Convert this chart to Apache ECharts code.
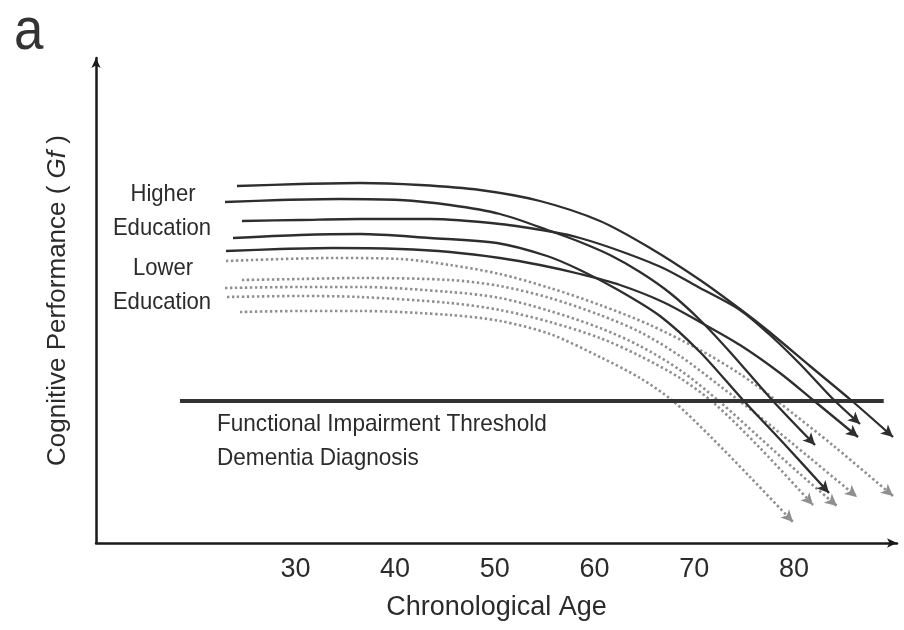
<!DOCTYPE html>
<html>
<head>
<meta charset="utf-8">
<script src="https://cdn.jsdelivr.net/npm/echarts@6/dist/echarts.min.js"></script>
<style>
html,body{margin:0;padding:0;background:#fff;}
#chart{width:904px;height:630px;}
</style>
</head>
<body>
<div id="chart"></div>
<script>
// Chronological age (x) vs cognitive performance (y, arbitrary units)
const tickLabels = [30, 40, 50, 60, 70, 80];

const higherEdu1 = [[24.14,71.4],[30.46,71.8],[36.48,72.0],[42.50,71.6],[48.52,70.6],[54.53,68.4],[60.55,64.4],[65.57,59.0],[70.58,52.6],[74.59,46.8],[77.30,42.6],[81.61,35.4],[85.83,28.4],[89.94,21.2]];
const higherEdu2 = [[22.94,68.2],[28.45,68.6],[34.47,68.8],[40.49,68.6],[45.51,67.6],[50.52,65.8],[55.84,62.2],[58.55,60.2],[61.55,57.6],[64.56,54.2],[67.57,50.0],[70.58,44.6],[73.59,38.2],[77.90,28.4],[82.12,19.6]];
const higherEdu3 = [[24.64,64.4],[30.46,64.6],[36.48,64.8],[43.50,64.8],[50.52,63.8],[55.84,62.2],[58.55,61.0],[62.56,58.4],[66.87,55.0],[70.58,51.0],[74.59,46.6],[77.60,41.6],[80.61,35.8],[83.92,28.8],[86.63,23.8]];
const higherEdu4 = [[23.74,61.0],[30.46,61.6],[36.48,61.8],[43.50,61.0],[50.22,60.0],[55.24,57.4],[58.55,54.6],[62.56,50.4],[66.57,45.4],[70.58,38.2],[74.89,28.6],[79.31,19.2],[83.52,10.0]];
const higherEdu5 = [[23.04,58.4],[28.45,58.8],[33.77,59.0],[40.49,58.8],[45.51,58.2],[50.52,57.0],[54.53,55.6],[58.55,53.8],[62.56,51.6],[66.87,48.2],[70.58,44.2],[74.59,39.6],[78.60,34.0],[81.92,28.6],[86.43,21.2]];

const lowerEdu1 = [[23.04,56.4],[33.77,57.0],[40.49,56.8],[45.51,55.6],[50.52,53.8],[55.54,51.0],[60.55,47.6],[65.57,43.6],[70.58,38.6],[74.59,33.8],[78.30,28.4],[84.12,19.2],[89.94,9.4]];
const lowerEdu2 = [[24.64,52.6],[30.46,52.8],[36.48,53.0],[45.51,52.6],[50.52,51.4],[55.54,49.0],[60.55,45.6],[64.56,42.2],[68.57,37.4],[72.59,31.4],[76.60,25.2],[81.61,17.0],[86.33,9.2]];
const lowerEdu3 = [[22.94,51.0],[30.46,51.2],[36.48,51.2],[45.51,50.2],[50.52,49.0],[55.54,46.4],[60.55,43.0],[64.56,39.4],[68.57,34.6],[72.59,28.2],[76.60,21.0],[80.61,13.8],[84.32,7.4]];
const lowerEdu4 = [[23.14,49.2],[30.46,49.4],[36.48,49.2],[45.51,48.0],[50.52,46.6],[55.54,44.2],[60.55,41.0],[64.56,37.4],[68.57,33.0],[72.08,27.8],[76.60,19.0],[81.92,7.6]];
const lowerEdu5 = [[24.44,46.2],[30.46,46.4],[36.48,46.4],[45.51,45.6],[50.52,44.4],[55.54,41.8],[60.55,37.2],[64.56,33.0],[67.87,28.4],[71.58,21.4],[75.60,13.2],[79.91,4.2]];

const thresholdLine = [[18.42,28.4],[89.01,28.4]];

const solidSets = [higherEdu1, higherEdu2, higherEdu3, higherEdu4, higherEdu5];
const dottedSets = [lowerEdu1, lowerEdu2, lowerEdu3, lowerEdu4, lowerEdu5];

const FONT = "'Liberation Sans', Arial, sans-serif";
const TXT = '#2b2b2b';
const SOLID = '#2e2e2e';
const DOT = '#8f8f8f';

const chart = echarts.init(document.getElementById('chart'));

function curveSeries(data, solid, rotation) {
  const n = data.length;
  return {
    type: 'line',
    smooth: 0.3,
    showSymbol: true,
    showAllSymbol: true,
    symbol: 'none',
    silent: true,
    z: solid ? 4 : 2,
    lineStyle: solid ? {color: SOLID, width: 2.3} : {color: DOT, width: 2.6, type: [2.4, 2.6], cap: 'butt'},
    itemStyle: {color: solid ? SOLID : DOT},
    data: data.map((p, i) => i === n - 1
      ? {value: p, symbol: 'arrow', symbolSize: [9, 12], symbolRotate: rotation}
      : {value: p})
  };
}

function buildSeries(rots) {
  const s = [];
  dottedSets.forEach((d, i) => s.push(curveSeries(d, false, rots ? rots.dot[i] : 0)));
  s.push({type:'line', data: thresholdLine, symbol:'none', silent:true, z:3,
    lineStyle:{color:'#333', width:4}});
  solidSets.forEach((d, i) => s.push(curveSeries(d, true, rots ? rots.solid[i] : 0)));
  return s;
}

function label(text, x, y, align, sx) {
  return {type: 'text', x: x, y: y, scaleX: sx,
    style: {text: text, fontFamily: FONT, fontSize: 24, fill: TXT, align: align, verticalAlign: 'middle'}};
}

const option = {
  animation: false,
  backgroundColor: '#fff',
  grid: {left: 96, right: 7, top: 58, bottom: 87},
  xAxis: {
    type: 'value', min: 10, max: 90.34, interval: 10,
    name: 'Chronological Age', nameLocation: 'middle', nameGap: 51,
    nameTextStyle: {fontFamily: FONT, fontSize: 27, color: TXT},
    axisLine: {show: true, symbol: ['none', 'arrow'], symbolSize: [7, 10], lineStyle: {color: '#1a1a1a', width: 2.5}},
    axisTick: {show: false},
    splitLine: {show: false},
    axisLabel: {
      margin: 13, fontFamily: FONT, fontSize: 27, color: TXT, showMaxLabel: false,
      formatter: v => tickLabels.indexOf(v) >= 0 ? String(v) : ''
    }
  },
  yAxis: {
    type: 'value', min: 0, max: 97,
    name: 'Cognitive Performance ( {i|Gf} )', nameLocation: 'middle', nameGap: 25, nameRotate: 90,
    nameTextStyle: {fontFamily: FONT, fontSize: 26, color: TXT,
      rich: {i: {fontFamily: FONT, fontSize: 26, fontStyle: 'italic', color: TXT}}},
    axisLine: {show: true, symbol: ['none', 'arrow'], symbolSize: [7, 10], lineStyle: {color: '#1a1a1a', width: 2.5}},
    axisTick: {show: false},
    splitLine: {show: false},
    axisLabel: {show: false}
  },
  graphic: [
    {type: 'text', x: 14, y: 2, scaleX: 0.88, style: {text: 'a', font: "60px 'Liberation Sans', Arial, sans-serif", fill: '#333'}},
    label('Higher', 163, 194, 'center', 0.92),
    label('Education', 162, 228, 'center', 0.92),
    label('Lower', 163, 268, 'center', 0.92),
    label('Education', 162, 302, 'center', 0.92),
    label('Functional Impairment Threshold', 217, 424, 'left', 0.94),
    label('Dementia Diagnosis', 217, 458, 'left', 0.94)
  ],
  series: buildSeries(null)
};
chart.setOption(option);

// orient the arrowheads along the final segment of each curve (pixel space via the chart's scales)
function endAngle(data) {
  const n = data.length;
  const a = chart.convertToPixel({gridIndex: 0}, data[n - 2]);
  const b = chart.convertToPixel({gridIndex: 0}, data[n - 1]);
  const dx = b[0] - a[0], dy = b[1] - a[1];
  return Math.atan2(-dx, -dy) * 180 / Math.PI;
}
const rots = {solid: solidSets.map(endAngle), dot: dottedSets.map(endAngle)};
chart.setOption({series: buildSeries(rots)});
</script>
</body>
</html>
